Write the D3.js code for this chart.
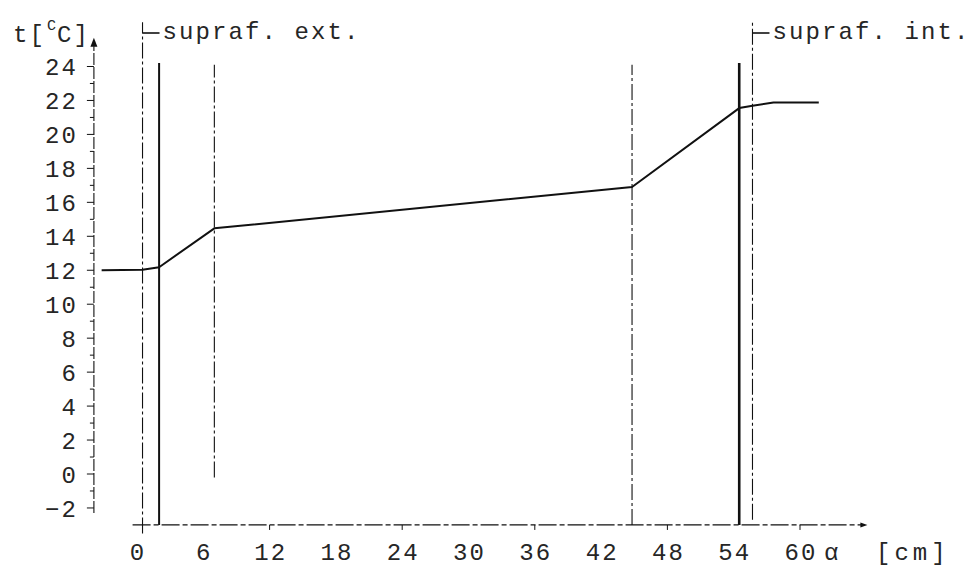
<!DOCTYPE html>
<html>
<head>
<meta charset="utf-8">
<script src="https://cdn.jsdelivr.net/npm/d3@7"></script>
<style>
  html, body { margin: 0; padding: 0; background: #fff; }
  svg { display: block; }
  text { font-family: "Liberation Mono", "DejaVu Sans Mono", monospace; fill: #262626; }
</style>
</head>
<body>
<svg id="chart" width="977" height="568"></svg>
<script>
// ---- data ----
const distance = [-3.2, 0.5, 2, 7, 44.8, 54.5, 55.7, 57.6, 61.7];          // a [cm]
const temperature = [12.0, 12.03, 12.18, 14.47, 16.9, 21.55, 21.69, 21.88, 21.88]; // t [°C]
const dashedBoundaries = [0.5, 7, 44.8, 55.7];
const solidBoundaries = [2, 54.5];
const surfaceX = [0.5, 55.7];
const surfaceNames = ["supraf. ext.", "supraf. int."];
const xTickLabels = [0, 6, 12, 18, 24, 30, 36, 42, 48, 54, 60];
const xTickMarks = [12, 24, 36, 48, 60];
const yTickLabels = [-2, 0, 2, 4, 6, 8, 10, 12, 14, 16, 18, 20, 22, 24];
const yTickMarks = d3.range(-2, 25, 1);

// ---- scales ----
const x = d3.scaleLinear().domain([0, 60]).range([137, 800]);
const y = d3.scaleLinear().domain([0, 24]).range([474, 66.5]);

const svg = d3.select("#chart");
const ink = "#111";
const dashDot = "16,3,3,3";
const fs = 24, ls = 2.1;

// ---- axes ----
const xAxisT = -3, yAxisA = -3.9;
svg.append("line")
  .attr("x1", x(yAxisA)).attr("x2", x(yAxisA))
  .attr("y1", y(-2.3)).attr("y2", y(25.2))
  .attr("stroke", ink).attr("stroke-width", 1.1).attr("stroke-dasharray", "12,2");
svg.append("path")
  .attr("d", `M${x(yAxisA)},${y(25.7)} l-3.5,9 l7,0 Z`)
  .attr("fill", ink);
svg.append("g").selectAll("line").data(yTickMarks).join("line")
  .attr("x1", d => x(yAxisA) - (d % 2 === 0 ? 7 : 4)).attr("x2", x(yAxisA))
  .attr("y1", d => y(d)).attr("y2", d => y(d))
  .attr("stroke", ink).attr("stroke-width", 1);
svg.append("g").selectAll("text").data(yTickLabels).join("text")
  .attr("x", 78).attr("y", d => y(d)).attr("dy", "0.36em")
  .attr("text-anchor", "end").attr("font-size", fs).attr("letter-spacing", ls)
  .text(d => d < 0 ? "\u2212" + Math.abs(d) : d);
// y title
const yt = svg.append("text").attr("x", 13).attr("y", 42).attr("font-size", fs).attr("letter-spacing", ls);
yt.append("tspan").text("t[");
yt.append("tspan").attr("font-size", 15).attr("letter-spacing", 0).attr("dx", 1).attr("dy", -12).text("C");
yt.append("tspan").attr("dy", 12).attr("dx", 1).text("C]");

// x axis
svg.append("line")
  .attr("x1", x(-0.4)).attr("x2", x(65.6))
  .attr("y1", y(xAxisT)).attr("y2", y(xAxisT))
  .attr("stroke", ink).attr("stroke-width", 1.3).attr("stroke-dasharray", "18,3,5,3");
svg.append("path")
  .attr("d", `M${x(66.1)},${y(xAxisT)} l-7,-2.5 l0,5 Z`)
  .attr("fill", ink);
svg.append("g").selectAll("line").data(xTickMarks).join("line")
  .attr("x1", d => x(d)).attr("x2", d => x(d))
  .attr("y1", y(xAxisT)).attr("y2", y(xAxisT) + 5)
  .attr("stroke", ink).attr("stroke-width", 1);
svg.append("g").selectAll("text").data(xTickLabels).join("text")
  .attr("x", d => x(d) + ls / 2).attr("y", 560)
  .attr("text-anchor", "middle").attr("font-size", fs).attr("letter-spacing", ls)
  .text(d => d);
svg.append("text").attr("x", 824).attr("y", 560).attr("font-size", fs)
  .text("\u03b1");
svg.append("text").attr("x", 876).attr("y", 560).attr("font-size", fs).attr("letter-spacing", 4)
  .text("[cm]");

// ---- boundary lines ----
const dashedExtent = {0.5: [-3.5, 26.6], 7: [-0.2, 24.1], 44.8: [xAxisT, 24.1], 55.7: [-2.7, 26.6]};
svg.append("g").selectAll("line").data(dashedBoundaries).join("line")
  .attr("x1", d => x(d)).attr("x2", d => x(d))
  .attr("y1", d => y(dashedExtent[d][0])).attr("y2", d => y(dashedExtent[d][1]))
  .attr("stroke", ink).attr("stroke-width", 1.1).attr("stroke-dasharray", dashDot);
svg.append("g").selectAll("line").data(solidBoundaries).join("line")
  .attr("x1", d => x(d)).attr("x2", d => x(d))
  .attr("y1", y(xAxisT)).attr("y2", y(24.2))
  .attr("stroke", ink).attr("stroke-width", (d, i) => i === 0 ? 2 : 2.6);

// surface labels
const sl = svg.append("g").selectAll("g").data(surfaceX).join("g");
sl.append("line")
  .attr("x1", d => x(d)).attr("x2", d => x(d) + 17)
  .attr("y1", 33).attr("y2", 33)
  .attr("stroke", ink).attr("stroke-width", 1.6);
sl.append("text")
  .attr("x", d => x(d) + 20).attr("y", 39).attr("font-size", fs).attr("letter-spacing", ls)
  .text((d, i) => surfaceNames[i]);

// ---- curve ----
const pts = distance.map((d, i) => [d, temperature[i]]);
svg.append("path")
  .datum(pts)
  .attr("d", d3.line().x(d => x(d[0])).y(d => y(d[1])))
  .attr("fill", "none").attr("stroke", ink).attr("stroke-width", 2)
  .attr("stroke-linejoin", "round");
</script>
</body>
</html>
